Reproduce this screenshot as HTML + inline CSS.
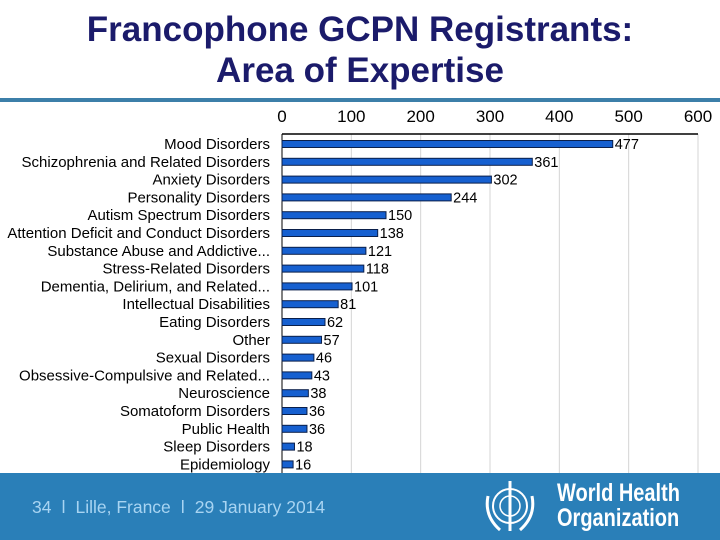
<!DOCTYPE html>
<html><head><meta charset="utf-8"><style>
body{margin:0;width:720px;height:540px;overflow:hidden;background:#fff;font-family:"Liberation Sans",sans-serif;position:relative}
#title{position:absolute;top:9px;left:0;width:720px;text-align:center;color:#1b1b6b;font-weight:bold;font-size:35px;line-height:41px}
#rule{position:absolute;top:98px;left:0;width:720px;height:4px;background:#3c7fa9}
#footer{position:absolute;top:473px;left:0;width:720px;height:67px;background:#2a7fb8}
#foottext{position:absolute;left:32px;top:24px;color:#a8d4f2;font-size:17.5px}
#who{position:absolute;left:480px;top:3px;width:60px;height:60px}
#whotext{position:absolute;left:557px;top:8px;color:#fff;font-weight:bold;font-size:25px;line-height:25px;transform:scaleX(0.8);transform-origin:left top}
svg text{font-family:"Liberation Sans",sans-serif}
</style></head><body>
<div id="title">Francophone GCPN Registrants:<br>Area of Expertise</div>
<div id="rule"></div>
<svg id="chart" width="720" height="540" style="position:absolute;left:0;top:0"></svg>
<div id="footer">
<div id="foottext">34 &nbsp;ǀ&nbsp; Lille, France &nbsp;ǀ&nbsp; 29 January 2014</div>
<svg id="who" viewBox="0 0 60 60">
<circle cx="30" cy="30" r="17" fill="none" stroke="#fff" stroke-width="2"/>
<circle cx="30" cy="30" r="10" fill="none" stroke="#fff" stroke-width="1.5"/>
<line x1="30" y1="5" x2="30" y2="55" stroke="#fff" stroke-width="3"/>
<path d="M8 20 Q4 40 20 54 M52 20 Q56 40 40 54" fill="none" stroke="#fff" stroke-width="3"/>
</svg>
<div id="whotext">World Health<br>Organization</div>
</div>
<script>
const categories=["Mood Disorders","Schizophrenia and Related Disorders","Anxiety Disorders","Personality Disorders","Autism Spectrum Disorders","Attention Deficit and Conduct Disorders","Substance Abuse and Addictive...","Stress-Related Disorders","Dementia, Delirium, and Related...","Intellectual Disabilities","Eating Disorders","Other","Sexual Disorders","Obsessive-Compulsive and Related...","Neuroscience","Somatoform Disorders","Public Health","Sleep Disorders","Epidemiology"];
const values=[477,361,302,244,150,138,121,118,101,81,62,57,46,43,38,36,36,18,16];
const ticks=[0,100,200,300,400,500,600];
const NS="http://www.w3.org/2000/svg";
const svg=document.getElementById('chart');
const x0=282,x1=698,xmax=600,yTop=134,yStep=17.8,yFirst=144;
const xs=v=>x0+(v/xmax)*(x1-x0);
const ys=i=>yFirst+i*yStep;
function mk(t,a){const e=document.createElementNS(NS,t);for(const k in a)e.setAttribute(k,a[k]);svg.appendChild(e);return e;}
ticks.forEach(t=>{
 if(t>0){const g=mk('line',{x1:xs(t),x2:xs(t),y1:yTop,y2:473,stroke:'#d4d4d4','stroke-width':1});
 
 }
 const l=mk('text',{x:xs(t),y:122,'text-anchor':'middle','font-size':17,fill:'#000'});l.textContent=t;
 
 
});
const axisTop=mk('line',{x1:x0,x2:x1,y1:yTop,y2:yTop,stroke:'#000','stroke-width':1.5});


const ya=mk('line',{x1:x0,x2:x0,y1:yTop,y2:473,stroke:'#000','stroke-width':1});


categories.forEach((c,i)=>{
 const y=ys(i),v=values[i];
 const b=mk('rect',{x:x0,y:y-3.5,width:xs(v)-x0,height:7,fill:'#1660d0',stroke:'#0a1f4a','stroke-width':1});
 
 
 const vl=mk('text',{x:xs(v)+2,y:y+5,'font-size':14.5,fill:'#000'});vl.textContent=v;
 
 
 const cl=mk('text',{x:270,y:y+5,'text-anchor':'end','font-size':15,fill:'#000'});cl.textContent=c;
 
 
});
</script>
</body></html>
